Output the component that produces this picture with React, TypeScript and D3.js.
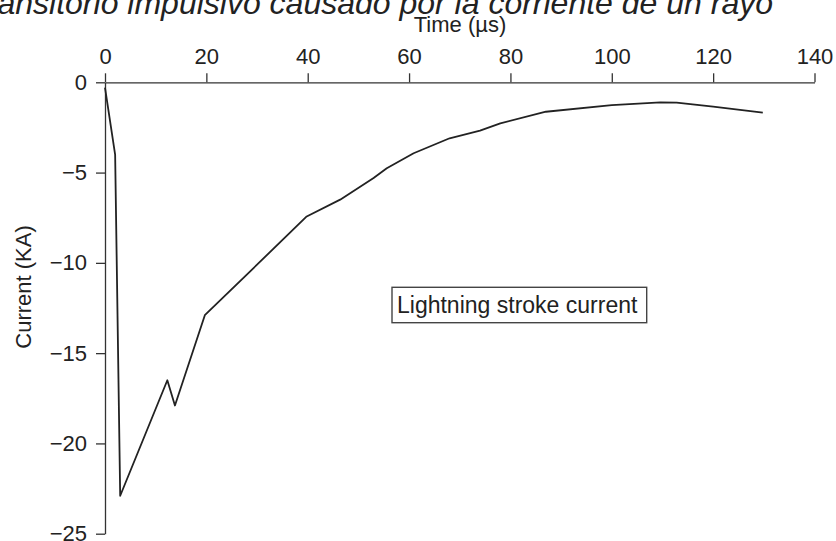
import React, { useEffect, useRef } from "react";
import * as d3 from "d3";

const width = 836;
const height = 541;

// time (µs) and current (kA)
const timeUs = [0, 2, 3, 12.3, 13.8, 19.7, 30, 39.7, 46.4, 53, 55.6, 60.9, 68, 74, 78, 87, 100, 109.6, 112.8, 120, 129.8];
const currentKA = [-0.3, -4, -22.9, -16.5, -17.9, -12.9, -10.1, -7.45, -6.5, -5.3, -4.76, -3.93, -3.1, -2.68, -2.27, -1.63, -1.26, -1.11, -1.13, -1.35, -1.68];

const xTicks = [0, 20, 40, 60, 80, 100, 120, 140];
const yTicks = [0, -5, -10, -15, -20, -25];

const titleText = "Transitorio impulsivo causado por la corriente de un rayo";
const xLabel = "Time (\u00b5s)";
const yLabel = "Current (KA)";
const legendText = "Lightning stroke current";

const font = "'Liberation Sans', Arial, sans-serif";
const ink = "#222";

const xScale = d3.scaleLinear().domain([0, 140]).range([105, 814.5]);
const yScale = d3.scaleLinear().domain([0, -25]).range([82.3, 533.7]);

export default function App() {
  const xAxisRef = useRef<SVGGElement>(null);
  const yAxisRef = useRef<SVGGElement>(null);

  const points = timeUs.map((t, i) => [t, currentKA[i]] as [number, number]);
  const line = d3
    .line<[number, number]>()
    .x((d) => xScale(d[0]))
    .y((d) => yScale(d[1]));

  useEffect(() => {
    const xAxis = d3.axisTop(xScale).tickValues(xTicks).tickSize(9).tickSizeOuter(0).tickPadding(9);
    const yAxis = d3.axisLeft(yScale).tickValues(yTicks).tickSize(9).tickSizeOuter(0).tickPadding(9);

    const styleAxis = (g: d3.Selection<SVGGElement, unknown, null, undefined>) => {
      g.selectAll("path, line").attr("stroke", "#333").attr("stroke-width", 1.3);
      g.selectAll("text").attr("fill", ink).style("font-family", font).style("font-size", "22px");
    };

    d3.select(xAxisRef.current!).call(xAxis).call(styleAxis);
    d3.select(yAxisRef.current!).call(yAxis).call(styleAxis);
  }, []);

  return (
    <svg width={width} height={height} style={{ position: "absolute", left: 0, top: 0, background: "#fff" }}>
      {/* title is cropped at the top/left edge in the source */}
      <text x={773} y={14} textAnchor="end" fontFamily={font} fontStyle="italic" fontSize={32} fill={ink}>
        {titleText}
      </text>
      <text x={460} y={32} textAnchor="middle" fontFamily={font} fontSize={22} fill={ink}>
        {xLabel}
      </text>
      <text
        transform={`translate(31, ${287}) rotate(-90)`}
        textAnchor="middle"
        fontFamily={font}
        fontSize={22}
        fill={ink}
      >
        {yLabel}
      </text>

      <g ref={xAxisRef} transform={`translate(0, ${yScale(0)})`} />
      <g ref={yAxisRef} transform={`translate(${xScale(0)}, 0)`} />

      <path d={line(points) ?? ""} fill="none" stroke={ink} strokeWidth={1.8} strokeLinejoin="round" />

      <rect x={392} y={287.3} width={254.7} height={35.4} fill="#fff" stroke="#444" strokeWidth={1.4} />
      <text x={397} y={313} fontFamily={font} fontSize={23} fill={ink}>
        {legendText}
      </text>
    </svg>
  );
}
